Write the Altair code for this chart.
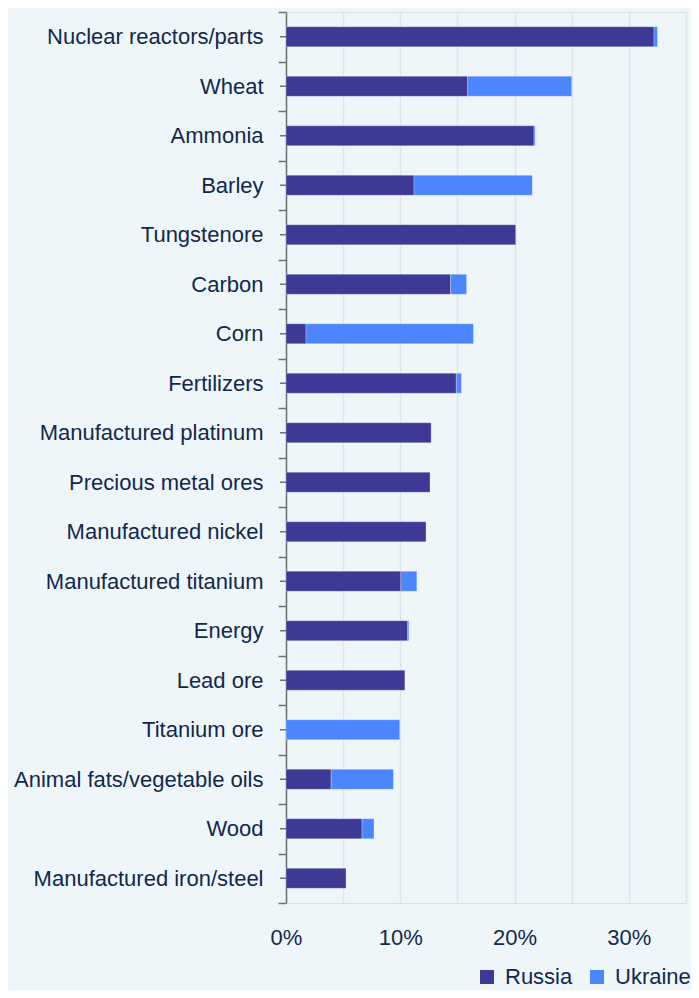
import altair as alt
import pandas as pd

categories = [
    "Nuclear reactors/parts", "Wheat", "Ammonia", "Barley", "Tungstenore",
    "Carbon", "Corn", "Fertilizers", "Manufactured platinum",
    "Precious metal ores", "Manufactured nickel", "Manufactured titanium",
    "Energy", "Lead ore", "Titanium ore", "Animal fats/vegetable oils\u00a0",
    "Wood", "Manufactured iron/steel",
]
russia = [32.2, 15.9, 21.7, 11.2, 20.1, 14.4, 1.75, 14.9, 12.7, 12.6,
          12.25, 10.05, 10.65, 10.4, 0.0, 3.95, 6.65, 5.25]
ukraine = [0.3, 9.1, 0.1, 10.35, 0.0, 1.4, 14.65, 0.45, 0.0, 0.0,
           0.0, 1.4, 0.1, 0.0, 9.95, 5.45, 1.05, 0.0]
series = ["Russia", "Ukraine"]
colors = ["#3d3a96", "#4b86fe"]
x_ticks = [0, 5, 10, 15, 20, 25, 30, 35]

rows = []
for c, r, u in zip(categories, russia, ukraine):
    rows.append({"product": c, "country": series[0], "share": r, "ord": 0})
    rows.append({"product": c, "country": series[1], "share": u, "ord": 1})
df = pd.DataFrame(rows)
cat_df = pd.DataFrame({"product": categories})

FONT = "Liberation Sans"
TXT = "#10294b"
AX = "#707070"
FS = 22

bars = alt.Chart(df).transform_filter("datum.share > 0").mark_bar(
    size=20, stroke="#ffffff", strokeWidth=0.8, strokeOpacity=0.35
).encode(
    x=alt.X("share:Q", stack="zero",
            scale=alt.Scale(domain=[0, 35], nice=False),
            axis=alt.Axis(values=x_ticks,
                          labelExpr="datum.value % 10 == 0 ? datum.value + '%' : ''",
                          title=None, domain=False, ticks=False, grid=True,
                          gridColor="#dfe4ea", gridWidth=1.5, labelPadding=24,
                          labelFlush=False, labelFontSize=FS, labelColor=TXT,
                          labelFont=FONT)),
    y=alt.Y("product:N", sort=categories,
            scale=alt.Scale(paddingInner=0, paddingOuter=0),
            axis=alt.Axis(title=None, tickBand="extent", tickSize=8,
                          domainColor=AX, domainWidth=1.5, tickColor=AX,
                          tickWidth=1.5, labelPadding=15, labelFontSize=FS,
                          labelLimit=0, labelColor=TXT, labelFont=FONT,
                          grid=False)),
    color=alt.Color("country:N",
                    scale=alt.Scale(domain=series, range=colors),
                    legend=alt.Legend(orient="none", legendX=190, legendY=954,
                                      direction="horizontal", title=None,
                                      symbolType="square", symbolSize=196,
                                      symbolStrokeWidth=0, labelFontSize=FS,
                                      labelColor=TXT, labelFont=FONT,
                                      columnPadding=13, labelOffset=7,
                                      labelLimit=0)),
    order=alt.Order("ord:Q"),
)

center_ticks = alt.Chart(cat_df).mark_rule(color=AX, strokeWidth=1.5).encode(
    y=alt.Y("product:N", sort=categories),
    x=alt.value(-6),
    x2=alt.value(0),
)

chart = alt.layer(bars, center_ticks).properties(
    width=400, height=891,
    autosize=alt.AutoSizeParams(type="none"),
    padding={"left": 278, "top": 4, "right": 5, "bottom": 87},
    background="#eff6fa",
).configure_view(stroke=None).configure(font=FONT)

chart.save("out.html", embed_options={"renderer": "svg", "actions": False})
